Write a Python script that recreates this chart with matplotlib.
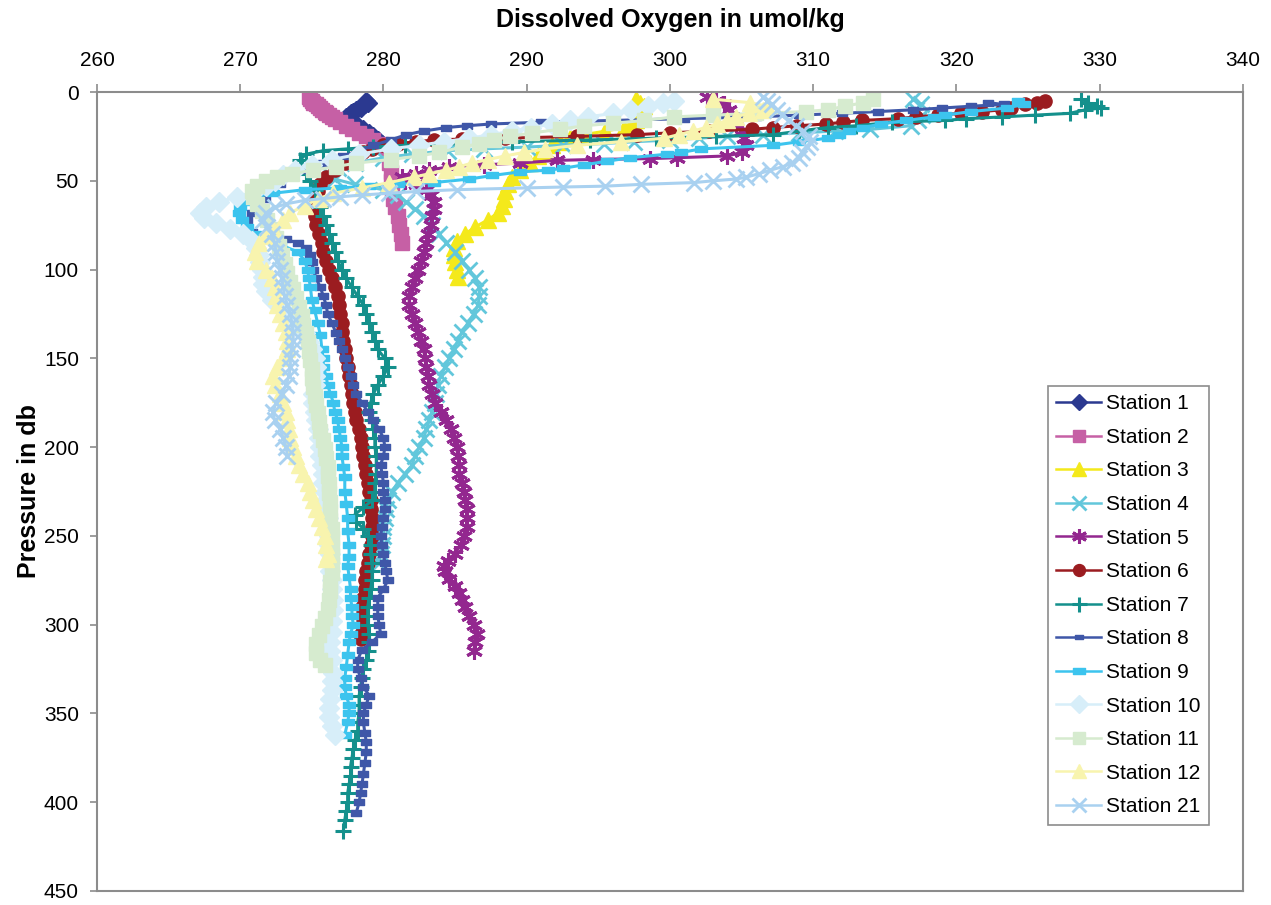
import numpy as np
import matplotlib.pyplot as plt
from matplotlib.path import Path

plt.rcParams['font.family'] = ['Liberation Sans', 'DejaVu Sans']

# CTD casts: (pressure in db, dissolved oxygen in umol/kg)
station_1 = [(5, 278.8), (6, 278.9), (7, 278.7), (8, 278.5), (9, 278.4), (10, 278.1), (11, 277.9),
             (12, 277.7), (13, 277.6), (14, 277.4), (15, 277.5), (17, 277.8), (19, 278.2), (21, 278.6),
             (23, 279.0), (25, 279.3), (27, 279.6), (29, 279.9)]

station_2 = [(3, 274.8), (4, 274.9), (5, 275.0), (6, 275.1), (7, 275.3), (8, 275.4), (9, 275.6),
             (10, 275.7), (11, 275.9), (12, 276.0), (13, 276.2), (14, 276.4), (15, 276.6), (17, 277.0),
             (19, 277.4), (21, 277.8), (23, 278.3), (25, 278.8), (27, 279.3), (29, 279.8), (31, 280.1),
             (35, 280.3), (40, 280.4), (45, 280.5), (50, 280.5), (55, 280.6), (60, 280.7), (65, 280.8),
             (70, 281.0), (75, 281.1), (80, 281.2), (85, 281.3)]

station_3 = [(4, 297.6), (6, 297.9), (8, 298.2), (10, 298.1), (12, 298.0), (14, 297.8), (16, 297.6),
             (18, 297.3), (20, 296.8), (22, 295.5), (24, 294.0), (26, 293.0), (28, 292.3), (30, 291.8),
             (33, 291.3), (36, 290.8), (40, 290.2), (44, 289.5), (48, 289.0), (52, 288.7), (56, 288.5),
             (60, 288.4), (64, 288.3), (68, 288.0), (72, 287.3), (76, 286.4), (80, 285.7), (84, 285.1),
             (88, 284.9), (92, 284.9), (96, 285.0), (100, 285.1), (104, 285.2)]

station_4 = [(4, 317.0), (7, 317.5), (10, 317.2), (13, 317.6), (16, 317.3), (19, 316.8), (21, 314.0),
             (22, 311.5), (23, 309.0), (24, 306.5), (25, 304.0), (26, 302.0), (27, 300.0), (28, 297.5),
             (29, 295.4), (30, 292.5), (31, 290.0), (32, 287.0), (33, 284.5), (35, 282.0), (37, 280.0),
             (40, 278.0), (43, 276.8), (46, 276.2), (49, 276.6), (52, 278.0), (55, 280.0), (58, 281.0),
             (62, 281.6), (66, 282.2), (70, 282.8), (75, 283.4), (80, 283.9), (85, 284.4), (90, 285.0),
             (95, 285.5), (100, 286.0), (105, 286.4), (110, 286.7), (115, 286.7), (120, 286.6),
             (125, 286.3), (130, 285.9), (135, 285.5), (140, 285.2), (145, 284.9), (150, 284.6),
             (155, 284.3), (160, 284.0), (165, 283.8), (170, 283.7), (175, 283.6), (180, 283.4),
             (185, 283.2), (190, 283.0), (195, 282.8), (200, 282.5), (205, 282.2), (210, 282.0),
             (215, 281.5), (220, 281.0), (225, 280.6), (230, 280.3), (235, 280.2), (240, 280.1),
             (245, 280.0), (250, 280.0), (255, 279.9), (260, 279.8), (265, 279.7)]

station_5 = [(3, 302.6), (5, 303.2), (7, 303.8), (10, 304.1), (14, 304.3), (18, 304.6), (22, 305.0),
             (26, 305.2), (30, 305.3), (34, 305.0), (36, 304.0), (37, 300.5), (37.5, 298.6), (38, 294.6),
             (38.5, 292.1), (40, 289.5), (41, 287.0), (42, 284.6), (44, 283.2), (46, 282.3), (48, 281.3),
             (50, 281.5), (52, 282.3), (55, 283.0), (58, 283.3), (62, 283.5), (66, 283.5), (70, 283.4),
             (75, 283.3), (80, 283.1), (85, 283.0), (90, 282.8), (95, 282.6), (100, 282.4), (105, 282.2),
             (110, 282.0), (115, 281.8), (120, 281.8), (125, 282.0), (130, 282.2), (135, 282.4),
             (140, 282.6), (145, 282.8), (150, 282.9), (155, 283.0), (160, 283.1), (165, 283.2),
             (170, 283.4), (175, 283.6), (180, 284.0), (185, 284.4), (190, 284.7), (195, 284.9),
             (200, 285.1), (205, 285.2), (210, 285.3), (215, 285.3), (220, 285.5), (225, 285.6),
             (230, 285.7), (235, 285.8), (240, 285.8), (245, 285.8), (250, 285.6), (255, 285.4),
             (260, 285.0), (264, 284.5), (267, 284.2), (270, 284.3), (274, 284.6), (278, 285.0),
             (282, 285.3), (286, 285.5), (290, 285.7), (295, 286.0), (300, 286.3), (305, 286.5),
             (310, 286.4), (315, 286.3)]

station_6 = [(5, 326.2), (6, 325.6), (7, 324.8), (9, 323.8), (10, 323.2), (11, 321.8), (12, 320.3),
             (13, 318.7), (14, 317.2), (15, 315.9), (16, 313.4), (17, 312.1), (18, 310.9), (19, 308.9),
             (20, 307.2), (21, 305.7), (22, 302.7), (23, 300.0), (24, 297.7), (25, 293.5), (26, 288.5),
             (26.5, 285.5), (27, 283.5), (28, 282.3), (29, 281.0), (30, 280.0), (32, 279.2), (34, 278.6),
             (37, 277.9), (40, 277.3), (44, 276.6), (48, 276.0), (52, 275.6), (56, 275.4), (60, 275.3),
             (65, 275.2), (70, 275.2), (75, 275.3), (80, 275.5), (85, 275.7), (90, 275.8), (95, 276.0),
             (100, 276.2), (105, 276.4), (110, 276.6), (115, 276.8), (120, 276.9), (125, 277.0),
             (130, 277.1), (135, 277.1), (140, 277.2), (145, 277.3), (150, 277.4), (155, 277.5),
             (160, 277.6), (165, 277.7), (170, 277.8), (175, 277.9), (180, 278.0), (185, 278.1),
             (190, 278.3), (195, 278.4), (200, 278.5), (205, 278.6), (210, 278.7), (215, 278.8),
             (220, 278.9), (225, 279.0), (230, 279.1), (235, 279.1), (240, 279.2), (245, 279.2),
             (250, 279.2), (255, 279.1), (260, 279.0), (265, 278.9), (270, 278.8), (275, 278.7),
             (280, 278.7), (285, 278.6), (290, 278.5), (295, 278.5), (300, 278.5), (305, 278.4),
             (308, 278.4)]

station_7 = [(4, 328.7), (6, 329.2), (8, 329.8), (9, 330.1), (10, 329.0), (12, 327.9), (13, 325.5),
             (14, 323.2), (15, 320.7), (16, 319.2), (17, 315.5), (19, 313.0), (20, 311.0), (22, 309.0),
             (24, 307.2), (25, 303.2), (26, 299.0), (27, 294.4), (28, 289.0), (29, 285.8), (30, 281.5),
             (31, 279.3), (32, 277.5), (33, 275.8), (35, 274.6), (38, 274.2), (42, 274.3), (46, 274.6),
             (50, 274.9), (55, 275.2), (60, 275.4), (65, 275.6), (70, 275.8), (75, 276.0), (80, 276.2),
             (85, 276.4), (90, 276.6), (95, 276.8), (100, 277.1), (105, 277.4), (110, 277.8),
             (115, 278.2), (120, 278.6), (125, 278.8), (130, 279.0), (135, 279.2), (140, 279.4),
             (145, 279.6), (150, 280.1), (155, 280.3), (160, 280.0), (165, 279.6), (170, 279.3),
             (175, 279.1), (180, 279.0), (185, 279.2), (190, 279.3), (195, 279.4), (200, 279.4),
             (205, 279.5), (210, 279.5), (215, 279.5), (220, 279.4), (225, 279.4), (230, 279.2),
             (234, 278.6), (238, 278.0), (242, 278.1), (246, 278.6), (250, 278.9), (255, 279.1),
             (260, 279.1), (265, 279.2), (270, 279.2), (275, 279.2), (280, 279.1), (285, 279.0),
             (290, 278.9), (295, 278.9), (300, 278.9), (305, 279.0), (310, 279.0), (315, 278.9),
             (320, 278.8), (325, 278.6), (330, 278.5), (335, 278.4), (340, 278.3), (345, 278.3),
             (350, 278.3), (355, 278.2), (360, 278.2), (365, 278.0), (370, 277.9), (375, 277.8),
             (380, 277.7), (385, 277.7), (390, 277.6), (395, 277.5), (400, 277.5), (405, 277.4),
             (410, 277.3), (416, 277.2)]

station_8 = [(6, 322.2), (7, 323.3), (8, 321.0), (9, 319.0), (10, 317.0), (11, 314.5), (12, 312.0),
             (13, 309.0), (14, 306.0), (15, 301.0), (16, 296.0), (17, 291.0), (18, 287.5), (19, 285.8),
             (20, 284.4), (22, 282.8), (24, 281.6), (27, 280.5), (30, 279.3), (33, 278.3), (36, 277.2),
             (40, 275.8), (44, 274.5), (48, 273.5), (52, 272.8), (56, 272.2), (60, 271.7), (64, 271.2),
             (68, 270.8), (72, 270.5), (76, 270.5), (79, 270.8), (81, 272.0), (83, 273.2), (85, 274.0),
             (88, 274.6), (92, 274.9), (96, 275.0), (100, 275.1), (105, 275.3), (110, 275.6),
             (115, 275.8), (120, 276.0), (125, 276.1), (130, 276.4), (136, 276.7), (140, 276.9),
             (145, 277.1), (150, 277.3), (155, 277.5), (160, 277.7), (165, 277.9), (170, 278.1),
             (175, 278.5), (180, 278.9), (185, 279.3), (190, 279.7), (195, 280.0), (200, 280.1),
             (205, 280.0), (210, 279.8), (215, 279.9), (220, 280.0), (225, 280.0), (230, 280.1),
             (235, 280.1), (240, 280.0), (245, 279.9), (250, 279.8), (255, 279.9), (260, 280.0),
             (265, 280.1), (270, 280.2), (275, 280.3), (280, 280.0), (285, 279.6), (290, 279.6),
             (295, 279.6), (300, 279.7), (305, 279.8), (310, 279.2), (314, 278.5), (320, 278.2),
             (325, 278.2), (330, 278.4), (335, 278.6), (340, 279.0), (345, 278.8), (350, 278.6),
             (355, 278.6), (361, 278.7), (366, 278.8), (372, 278.8), (378, 278.7), (384, 278.6),
             (390, 278.5), (395, 278.4), (400, 278.3), (406, 278.1)]

station_9 = [(5, 324.3), (7, 324.7), (9, 323.5), (11, 321.0), (13, 319.2), (14, 318.4), (16, 316.5),
             (18, 314.7), (20, 313.5), (22, 312.5), (24, 311.8), (26, 311.0), (28, 309.0), (30, 307.2),
             (32, 302.2), (34, 300.8), (35, 299.8), (37, 297.2), (39, 295.6), (41, 294.0), (43, 292.5),
             (44, 291.5), (45, 289.5), (47, 287.6), (49, 286.0), (51, 283.5), (52, 281.0), (53, 279.0),
             (54, 277.0), (55, 274.5), (57, 272.3), (59, 271.0), (62, 270.3), (65, 270.0), (68, 269.9),
             (72, 270.1), (76, 270.5), (80, 271.0), (83, 271.8), (86, 272.8), (90, 274.0), (95, 274.5),
             (100, 274.7), (105, 274.8), (110, 274.9), (117, 275.0), (123, 275.2), (130, 275.4),
             (137, 275.6), (145, 275.7), (150, 275.8), (155, 275.8), (160, 276.0), (165, 276.1),
             (170, 276.3), (175, 276.5), (180, 276.6), (185, 276.8), (190, 276.9), (195, 277.0),
             (200, 277.1), (205, 277.1), (211, 277.2), (217, 277.3), (225, 277.3), (232, 277.4),
             (240, 277.5), (247, 277.5), (255, 277.6), (262, 277.6), (267, 277.5), (273, 277.6),
             (280, 277.7), (285, 277.7), (290, 277.8), (295, 277.8), (300, 277.9), (305, 277.7),
             (310, 277.6), (317, 277.5), (324, 277.4), (330, 277.3), (335, 277.3), (340, 277.4),
             (345, 277.6), (350, 277.6), (355, 277.5), (362, 277.3)]

station_10 = [(5, 300.3), (6, 299.5), (8, 298.5), (10, 297.3), (12, 296.0), (14, 294.3), (16, 293.0),
              (18, 291.8), (20, 290.3), (22, 289.0), (24, 287.5), (26, 286.0), (28, 284.2), (30, 282.5),
              (32, 280.5), (35, 278.3), (38, 276.4), (41, 275.0), (44, 273.8), (47, 273.0), (50, 272.4),
              (53, 271.8), (56, 271.0), (59, 269.8), (62, 268.5), (65, 267.6), (68, 267.2), (71, 267.5),
              (74, 268.3), (77, 269.3), (80, 270.2), (84, 270.8), (88, 271.1), (92, 271.3), (96, 271.4),
              (100, 271.5), (104, 271.6), (108, 271.6), (112, 271.8), (117, 272.2), (121, 272.8),
              (125, 273.3), (130, 273.9), (136, 274.5), (141, 274.8), (145, 275.0), (150, 275.2),
              (155, 275.3), (160, 275.2), (165, 275.2), (170, 275.1), (175, 275.1), (180, 275.2),
              (185, 275.3), (190, 275.4), (195, 275.5), (200, 275.6), (205, 275.6), (210, 275.7),
              (215, 275.8), (220, 275.8), (225, 275.9), (230, 276.0), (235, 276.0), (240, 276.1),
              (245, 276.1), (250, 276.2), (255, 276.2), (260, 276.3), (265, 276.3), (270, 276.3),
              (275, 276.4), (280, 276.4), (286, 276.5), (292, 276.5), (298, 276.4), (304, 276.4),
              (310, 276.3), (315, 276.3), (320, 276.4), (327, 276.5), (332, 276.4), (337, 276.4),
              (342, 276.3), (347, 276.2), (352, 276.2), (357, 276.4), (362, 276.6)]

station_11 = [(4, 314.2), (6, 313.5), (8, 312.2), (10, 311.0), (11, 309.5), (12, 306.0), (13, 303.0),
              (14, 300.3), (16, 298.2), (17.6, 296.0), (19, 294.0), (21, 292.3), (23, 290.4), (25, 288.8),
              (27, 287.7), (29, 286.7), (31, 285.5), (34, 283.9), (36, 282.5), (38, 280.5), (40, 278.1),
              (42, 276.7), (44, 275.1), (46, 273.6), (48, 272.6), (50, 271.8), (53, 271.2), (56, 270.8),
              (59, 270.9), (63, 271.2), (67, 271.5), (72, 271.9), (77, 272.2), (82, 272.5), (87, 272.7),
              (92, 272.9), (97, 273.1), (102, 273.3), (107, 273.5), (111, 273.7), (116, 273.9),
              (121, 274.1), (126, 274.3), (131, 274.4), (136, 274.6), (141, 274.7), (146, 274.8),
              (151, 274.9), (156, 275.0), (161, 275.0), (166, 275.1), (171, 275.2), (176, 275.3),
              (181, 275.4), (186, 275.5), (191, 275.6), (196, 275.8), (201, 275.9), (206, 276.0),
              (211, 276.1), (216, 276.1), (221, 276.2), (226, 276.2), (231, 276.3), (236, 276.3),
              (241, 276.3), (246, 276.4), (251, 276.4), (256, 276.4), (261, 276.4), (266, 276.4),
              (271, 276.4), (276, 276.3), (281, 276.3), (286, 276.2), (291, 276.1), (296, 275.9),
              (301, 275.7), (306, 275.5), (311, 275.3), (316, 275.3), (320, 275.6), (323, 275.9)]

station_12 = [(4, 303.0), (6, 305.6), (8, 306.8), (10, 306.5), (12, 305.5), (14, 304.6), (16, 304.0),
              (18, 303.3), (20, 302.5), (22, 301.6), (24, 300.6), (26, 299.6), (28, 296.6), (30, 293.5),
              (32, 291.3), (34, 289.8), (36, 288.5), (38, 287.3), (40, 286.2), (42, 285.3), (44, 284.4),
              (46, 283.2), (48, 282.1), (51, 280.4), (54, 278.5), (57, 276.5), (60, 275.5), (64, 274.5),
              (68, 273.5), (72, 273.0), (77, 272.3), (81, 271.7), (85, 271.3), (90, 271.0), (95, 271.2),
              (100, 271.8), (105, 272.2), (110, 272.4), (115, 272.5), (120, 272.6), (125, 272.8),
              (130, 273.0), (135, 273.2), (140, 273.3), (145, 273.3), (150, 273.0), (155, 272.6),
              (160, 272.3), (165, 272.4), (170, 272.8), (175, 273.0), (180, 273.2), (185, 273.3),
              (190, 273.4), (195, 273.5), (200, 273.7), (205, 273.9), (210, 274.1), (215, 274.4),
              (220, 274.7), (225, 274.9), (230, 275.1), (235, 275.3), (240, 275.5), (245, 275.7),
              (250, 275.9), (255, 276.0), (260, 276.1), (263, 276.0)]

station_21 = [(3, 306.5), (5, 306.8), (7, 307.1), (10, 307.5), (13, 307.8), (16, 308.3), (19, 308.8),
              (22, 309.3), (25, 309.7), (28, 309.8), (31, 309.6), (34, 309.2), (37, 309.0), (40, 308.5),
              (42, 307.9), (44, 307.0), (46, 306.2), (48, 305.3), (49, 304.6), (50, 303.0), (51, 301.7),
              (52, 298.0), (53, 295.5), (53.5, 292.5), (54, 290.0), (55, 285.1), (56, 282.3), (57, 280.4),
              (58, 278.5), (59, 277.0), (60, 275.8), (61, 274.5), (63, 273.2), (65, 272.4), (68, 271.8),
              (72, 271.6), (76, 271.9), (80, 272.2), (85, 272.4), (90, 272.5), (95, 272.6), (100, 272.8),
              (105, 272.9), (110, 273.0), (115, 273.1), (120, 273.3), (125, 273.5), (130, 273.6),
              (135, 273.7), (140, 273.7), (145, 273.6), (150, 273.5), (155, 273.5), (160, 273.4),
              (165, 273.2), (170, 272.9), (175, 272.5), (180, 272.3), (185, 272.4), (190, 272.8),
              (195, 273.0), (200, 273.2), (205, 273.3)]

stations = [station_1, station_2, station_3, station_4, station_5, station_6, station_7,
            station_8, station_9, station_10, station_11, station_12, station_21]
labels = ['Station 1', 'Station 2', 'Station 3', 'Station 4', 'Station 5', 'Station 6', 'Station 7',
          'Station 8', 'Station 9', 'Station 10', 'Station 11', 'Station 12', 'Station 21']

# flat bar marker used for stations 8 and 9
bar = Path([(-1, -0.55), (1, -0.55), (1, 0.55), (-1, 0.55), (-1, -0.55)],
           [Path.MOVETO, Path.LINETO, Path.LINETO, Path.LINETO, Path.CLOSEPOLY])

styles = [
    dict(color='#2B3990', marker='D', ms=9),
    dict(color='#C660A5', marker='s', ms=10),
    dict(color='#F4E91B', marker='^', ms=11),
    dict(color='#62C7DB', marker='x', ms=11, mew=2.0),
    dict(color='#93278F', marker=(6, 2, 0), ms=12, mew=2.2),
    dict(color='#9B1C20', marker='o', ms=9.5),
    dict(color='#14908C', marker='+', ms=12, mew=2.2),
    dict(color='#3F57A8', marker=bar, ms=7),
    dict(color='#3CC4EE', marker=bar, ms=9),
    dict(color='#D7EEF9', marker='D', ms=10),
    dict(color='#D6EBCF', marker='s', ms=10),
    dict(color='#F8F4AE', marker='^', ms=11),
    dict(color='#A9D1F0', marker='x', ms=11, mew=2.0),
]

fig = plt.figure(figsize=(12.71, 9.05), dpi=100)
ax = fig.add_axes([0.0763, 0.0155, 0.9016, 0.8828])

for data, lab, st in zip(stations, labels, styles):
    db, ox = np.array(data).T
    ax.plot(ox, db, lw=2.2, label=lab, **st)

ax.set_xlim(260, 340)
ax.set_ylim(450, 0)
ax.set_xticks(np.arange(260, 341, 10))
ax.set_yticks(np.arange(0, 451, 50))

ax.xaxis.tick_top()
ax.xaxis.set_label_position('top')
ax.set_xlabel('Dissolved Oxygen in umol/kg', fontsize=18, fontweight='bold', labelpad=17)
ax.set_ylabel('Pressure in db', fontsize=18, fontweight='bold', labelpad=2)

for side in ['top', 'bottom', 'left', 'right']:
    ax.spines[side].set_color('#8C8C8C')
    ax.spines[side].set_linewidth(1.5)
ax.tick_params(axis='x', colors='#8C8C8C', labelcolor='black', labelsize=15,
               length=6, width=1.2, pad=10, direction='out')
ax.tick_params(axis='y', colors='#8C8C8C', labelcolor='black', labelsize=15,
               length=5, width=1.2, pad=8, direction='out')

leg = ax.legend(loc='upper left', bbox_to_anchor=(1048 / 1271, 1 - 386 / 905),
                bbox_transform=fig.transFigure, fontsize=15, frameon=True, fancybox=False,
                edgecolor='#8C8C8C', framealpha=1, handlelength=2.15, handletextpad=0.25,
                labelspacing=0.70, borderpad=0.4, borderaxespad=0, numpoints=1,
                markerscale=0.9)
leg.get_frame().set_linewidth(1.2)
for h in leg.get_lines():
    h.set_linewidth(1.8)

fig.savefig('out.png', dpi=100)
